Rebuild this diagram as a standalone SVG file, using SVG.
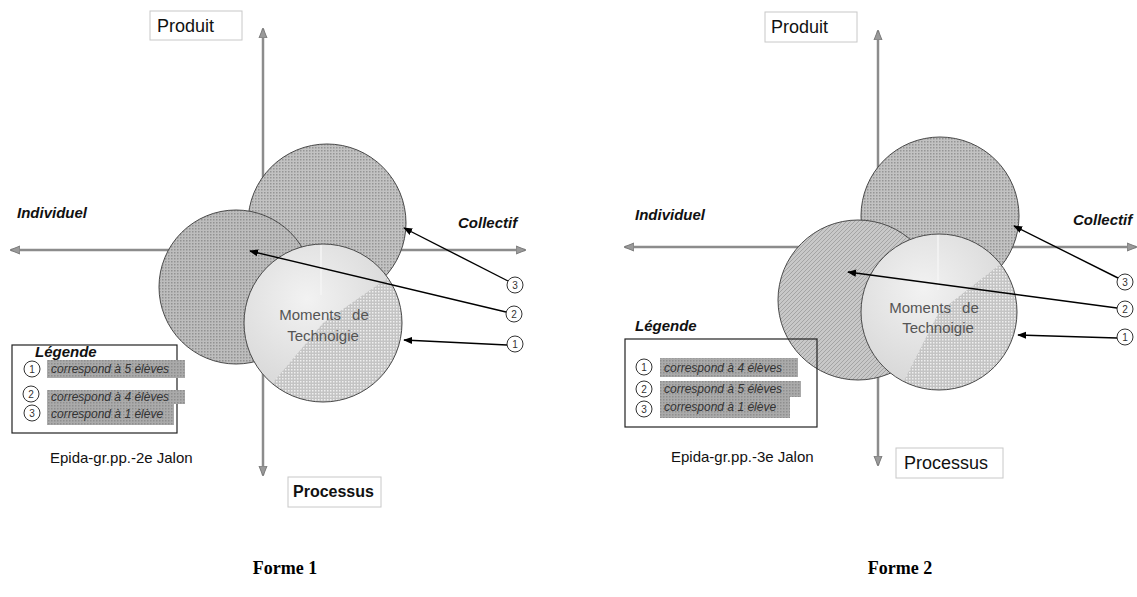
<svg xmlns="http://www.w3.org/2000/svg" width="1137" height="597" viewBox="0 0 1137 597">
<style>
.axis{stroke:#8c8c8c;stroke-width:2.5;fill:none}
.conn{stroke:#000;stroke-width:1.4;fill:none}
.circ{stroke:#4a4a4a;stroke-width:1}
.lbl{font-family:"Liberation Sans",Arial,sans-serif;fill:#111}
.bx{fill:#fff;stroke:#c8c8c8;stroke-width:1}
.it{font-family:"Liberation Sans",Arial,sans-serif;font-style:italic;font-weight:bold;font-size:15px;fill:#111}
.leg{font-family:"Liberation Sans",Arial,sans-serif;font-style:italic;font-size:12px;fill:#333}
.num{fill:#fff;stroke:#333;stroke-width:1}
.numt{font-family:"Liberation Sans",Arial,sans-serif;font-size:10px;fill:#333;text-anchor:middle}
.mom{font-family:"Liberation Sans",Arial,sans-serif;font-size:15px;fill:#555;text-anchor:middle}
.hl{fill:url(#pHl)}
</style>
<defs>
<pattern id="pTop" width="3" height="3" patternUnits="userSpaceOnUse"><rect width="3" height="3" fill="#c2c2c2"/><rect width="1.5" height="1.5" fill="#959595"/></pattern>
<pattern id="pLeft" width="3" height="3" patternUnits="userSpaceOnUse"><rect width="3" height="3" fill="#bdbdbd"/><rect width="1.5" height="1.5" fill="#929292"/></pattern>
<pattern id="pDiag" width="4" height="4" patternUnits="userSpaceOnUse"><rect width="4" height="4" fill="#c8c8c8"/><path d="M0,4 L4,0" stroke="#a4a4a4" stroke-width="1"/></pattern>
<pattern id="pPie" width="3" height="3" patternUnits="userSpaceOnUse"><rect width="3" height="3" fill="#c4c4c4"/><rect width="1.5" height="1.5" fill="#efefef"/></pattern>
<pattern id="pHl" width="3" height="3" patternUnits="userSpaceOnUse"><rect width="3" height="3" fill="#aaaaaa"/><rect width="1.5" height="1.5" fill="#8e8e8e"/></pattern>
<radialGradient id="gLight" cx="0.4" cy="0.35" r="0.7"><stop offset="0" stop-color="#f2f2f2"/><stop offset="1" stop-color="#d4d4d4"/></radialGradient>
<marker id="ah" viewBox="0 0 10 10" refX="9" refY="5" markerWidth="9" markerHeight="9" markerUnits="userSpaceOnUse" orient="auto"><path d="M0,1 L10,5 L0,9 Z" fill="#000"/></marker>
<marker id="ax" viewBox="0 0 10 10" refX="9" refY="5" markerWidth="10" markerHeight="10" markerUnits="userSpaceOnUse" orient="auto"><path d="M0,1 L10,5 L0,9 Z" fill="#9a9a9a" stroke="#7a7a7a" stroke-width="1"/></marker>
</defs>
<rect width="1137" height="597" fill="#fff"/>

<!-- ============ FORME 1 ============ -->
<g id="axes1">
<line class="axis" x1="263" y1="250" x2="263" y2="29" marker-end="url(#ax)"/>
<line class="axis" x1="263" y1="250" x2="263" y2="475" marker-end="url(#ax)"/>
<line class="axis" x1="263" y1="250" x2="11" y2="250" marker-end="url(#ax)"/>
<line class="axis" x1="263" y1="250" x2="525" y2="250" marker-end="url(#ax)"/>
</g>
<g id="f1-circle3"><circle class="circ" cx="327" cy="223" r="79" fill="url(#pTop)"/></g>
<g id="f1-circle2"><circle class="circ" cx="236" cy="287" r="77" fill="url(#pLeft)"/></g>
<g id="f1-circle1">
<circle cx="323" cy="323" r="79" fill="url(#gLight)"/>
<path d="M323,323 L387.7,277.7 A79,79 0 0 1 272.2,383.5 Z" fill="url(#pPie)"/>
<line x1="321" y1="245" x2="321" y2="295" stroke="#f4f4f4" stroke-width="1.5"/>
<circle class="circ" cx="323" cy="323" r="79" fill="none"/>
<text class="mom" x="324" y="320" word-spacing="7">Moments de</text>
<text class="mom" x="323" y="341">Technoigie</text>
</g>
<g id="f1-produit"><rect class="bx" x="150" y="11" width="92" height="29"/><text class="lbl" x="157" y="32" font-size="18">Produit</text></g>
<g id="f1-processus"><rect class="bx" x="288" y="477" width="93" height="30"/><text class="lbl" x="293" y="497" font-size="16" font-weight="bold">Processus</text></g>
<g id="f1-individuel"><text class="it" x="17" y="218">Individuel</text></g>
<g id="f1-collectif"><text class="it" x="458" y="228">Collectif</text></g>
<g id="f1-legende">
<rect x="12" y="345" width="165" height="88" fill="none" stroke="#222" stroke-width="1.2"/>
<text class="it" x="35" y="357" font-size="12">Légende</text>
<rect class="hl" x="47" y="360" width="138" height="18"/>
<text class="leg" x="51" y="373">correspond à 5 élèves</text>
<rect class="hl" x="47" y="390" width="138" height="14"/>
<text class="leg" x="51" y="401">correspond à  4 élèves</text>
<rect class="hl" x="47" y="404" width="127" height="21"/>
<text class="leg" x="51" y="418">correspond à 1 élève</text>
<circle class="num" cx="32" cy="369" r="8"/><text class="numt" x="32" y="373">1</text>
<circle class="num" cx="31" cy="394" r="8"/><text class="numt" x="31" y="398">2</text>
<circle class="num" cx="32" cy="413" r="8"/><text class="numt" x="32" y="417">3</text>
</g>
<g id="f1-epida"><text class="lbl" x="50" y="463" font-size="15">Epida-gr.pp.-2e Jalon</text></g>
<g id="f1-tag3"><circle class="num" cx="515" cy="285" r="8"/><text class="numt" x="515" y="289">3</text></g>
<g id="f1-tag2"><circle class="num" cx="514" cy="314" r="8"/><text class="numt" x="514" y="318">2</text></g>
<g id="f1-tag1"><circle class="num" cx="515" cy="344" r="8"/><text class="numt" x="515" y="348">1</text></g>

<!-- ============ FORME 2 ============ -->
<g id="axes2">
<line class="axis" x1="878" y1="247" x2="878" y2="31" marker-end="url(#ax)"/>
<line class="axis" x1="878" y1="247" x2="878" y2="465" marker-end="url(#ax)"/>
<line class="axis" x1="878" y1="247" x2="625" y2="247" marker-end="url(#ax)"/>
<line class="axis" x1="878" y1="247" x2="1136" y2="247" marker-end="url(#ax)"/>
</g>
<g id="f2-circle3"><circle class="circ" cx="940" cy="216" r="79" fill="url(#pTop)"/></g>
<g id="f2-circle2"><circle class="circ" cx="858" cy="300" r="80" fill="url(#pDiag)"/></g>
<g id="f2-circle1">
<circle cx="939" cy="312" r="78" fill="url(#gLight)"/>
<path d="M939,312 L1000.5,264 A78,78 0 0 1 903.6,381.5 Z" fill="url(#pPie)"/>
<line x1="938" y1="235" x2="938" y2="290" stroke="#f4f4f4" stroke-width="1.5"/>
<circle class="circ" cx="939" cy="312" r="78" fill="none"/>
<text class="mom" x="934" y="313" word-spacing="7">Moments de</text>
<text class="mom" x="938" y="333">Technoigie</text>
</g>
<g id="f2-produit"><rect class="bx" x="765" y="12" width="92" height="30"/><text class="lbl" x="771" y="33" font-size="18">Produit</text></g>
<g id="f2-processus"><rect class="bx" x="896" y="448" width="107" height="30"/><text class="lbl" x="904" y="469" font-size="18">Processus</text></g>
<g id="f2-individuel"><text class="it" x="635" y="220">Individuel</text></g>
<g id="f2-collectif"><text class="it" x="1073" y="225">Collectif</text></g>
<g id="f2-legende">
<text class="it" x="635" y="331" font-size="12">Légende</text>
<rect x="625" y="339" width="192" height="88" fill="none" stroke="#222" stroke-width="1.2"/>
<rect class="hl" x="660" y="358" width="138" height="19"/>
<text class="leg" x="664" y="372">correspond à 4 élèves</text>
<rect class="hl" x="660" y="381" width="141" height="16"/>
<text class="leg" x="664" y="393">correspond à  5 élèves</text>
<rect class="hl" x="660" y="397" width="130" height="21"/>
<text class="leg" x="664" y="411">correspond à 1 élève</text>
<circle class="num" cx="644" cy="367" r="8"/><text class="numt" x="644" y="371">1</text>
<circle class="num" cx="644" cy="389" r="8"/><text class="numt" x="644" y="393">2</text>
<circle class="num" cx="644" cy="409" r="8"/><text class="numt" x="644" y="413">3</text>
</g>
<g id="f2-epida"><text class="lbl" x="671" y="462" font-size="15">Epida-gr.pp.-3e Jalon</text></g>
<g id="f2-tag3"><circle class="num" cx="1125" cy="282" r="8"/><text class="numt" x="1125" y="286">3</text></g>
<g id="f2-tag2"><circle class="num" cx="1125" cy="309" r="8"/><text class="numt" x="1125" y="313">2</text></g>
<g id="f2-tag1"><circle class="num" cx="1125" cy="337" r="8"/><text class="numt" x="1125" y="341">1</text></g>

<g id="connectors">
<line class="conn" x1="508" y1="281" x2="404" y2="228" marker-end="url(#ah)"/>
<line class="conn" x1="506" y1="312" x2="250" y2="251" marker-end="url(#ah)"/>
<line class="conn" x1="507" y1="345" x2="404" y2="340" marker-end="url(#ah)"/>
<line class="conn" x1="1118" y1="278" x2="1014" y2="226" marker-end="url(#ah)"/>
<line class="conn" x1="1117" y1="308" x2="848" y2="272" marker-end="url(#ah)"/>
<line class="conn" x1="1117" y1="338" x2="1018" y2="335" marker-end="url(#ah)"/>
</g>

<g id="captions">
<text x="285" y="574" font-family="Liberation Serif,Times New Roman,serif" font-weight="bold" font-size="18" text-anchor="middle" fill="#000">Forme 1</text>
<text x="900" y="574" font-family="Liberation Serif,Times New Roman,serif" font-weight="bold" font-size="18" text-anchor="middle" fill="#000">Forme 2</text>
</g>
</svg>
